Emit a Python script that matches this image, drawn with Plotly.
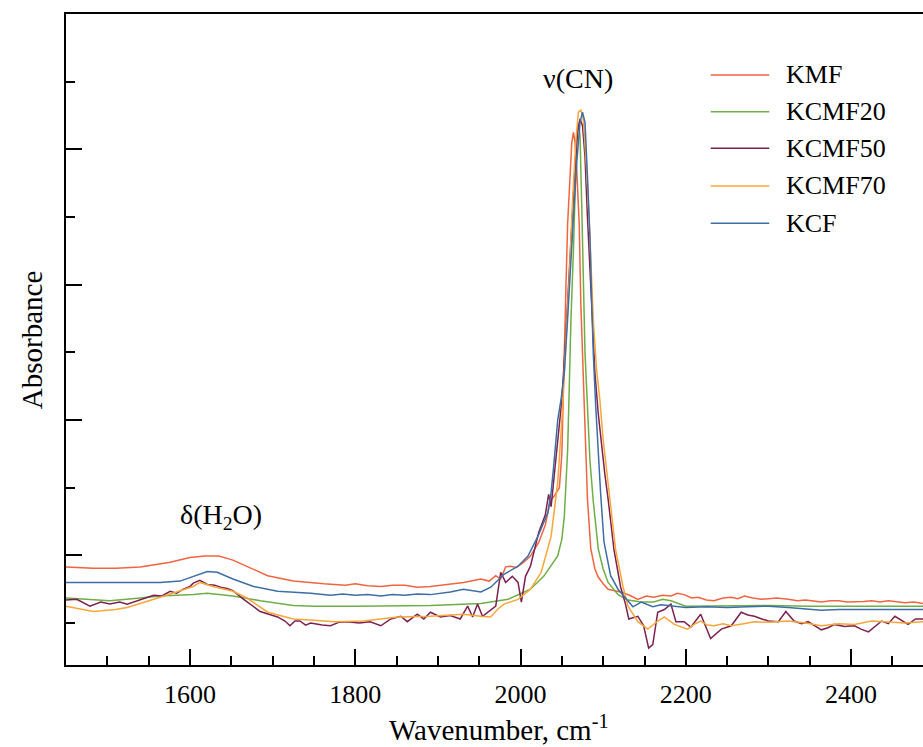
import plotly.graph_objects as go

# ---------------- data ----------------
series_names = ["KMF", "KCMF20", "KCMF50", "KCMF70", "KCF"]
series_colors = ["#F0653F", "#6FAE45", "#7D2150", "#F8A63A", "#3E6EA6"]

KMF_wn = [1450, 1483, 1510, 1540, 1576, 1600, 1618, 1635, 1652, 1677, 1694, 1725, 1740, 1750, 1762, 1775,
          1788, 1800, 1815, 1831, 1845, 1860, 1875, 1891, 1910, 1931, 1952, 1962, 1970, 1976, 1982, 1988,
          1995, 2004, 2012, 2022, 2030, 2036, 2042, 2047, 2050, 2053, 2055, 2057, 2060, 2062, 2064, 2066,
          2068, 2071, 2073, 2075, 2077, 2079, 2081, 2085, 2090, 2094, 2100, 2106, 2121, 2132, 2142, 2152,
          2161, 2172, 2182, 2190, 2198, 2207, 2215, 2225, 2234, 2245, 2255, 2263, 2271, 2281, 2291, 2300,
          2310, 2324, 2335, 2345, 2355, 2364, 2375, 2385, 2395, 2404, 2415, 2425, 2435, 2445, 2455, 2465,
          2476, 2487]
KMF_abs = [0.183, 0.181, 0.181, 0.183, 0.190, 0.197, 0.199, 0.199, 0.193, 0.179, 0.170, 0.162, 0.160, 0.159,
           0.158, 0.157, 0.156, 0.158, 0.155, 0.154, 0.156, 0.156, 0.153, 0.154, 0.157, 0.160, 0.165, 0.162,
           0.170, 0.165, 0.183, 0.184, 0.182, 0.190, 0.199, 0.219, 0.245, 0.280, 0.290, 0.300, 0.350, 0.520,
           0.600, 0.690, 0.770, 0.810, 0.825, 0.810, 0.770, 0.690, 0.570, 0.500, 0.430, 0.350, 0.283, 0.210,
           0.180, 0.168, 0.158, 0.150, 0.146, 0.141, 0.135, 0.140, 0.138, 0.141, 0.140, 0.144, 0.142, 0.137,
           0.138, 0.134, 0.133, 0.137, 0.138, 0.136, 0.140, 0.137, 0.135, 0.136, 0.137, 0.135, 0.133, 0.134,
           0.132, 0.131, 0.133, 0.133, 0.131, 0.131, 0.132, 0.133, 0.131, 0.133, 0.132, 0.130, 0.131, 0.129]

KCMF20_wn = [1450, 1483, 1503, 1540, 1564, 1604, 1621, 1652, 1685, 1725, 1750, 1800, 1850, 1891, 1952, 1985,
             2012, 2028, 2045, 2050, 2053, 2055, 2057, 2059, 2061, 2064, 2066, 2068, 2070, 2072, 2074, 2076,
             2078, 2081, 2084, 2088, 2094, 2100, 2106, 2118, 2130, 2146, 2161, 2172, 2182, 2200, 2250, 2300,
             2350, 2404, 2450, 2487]
KCMF20_abs = [0.137, 0.134, 0.133, 0.137, 0.140, 0.142, 0.144, 0.140, 0.133, 0.126, 0.125, 0.125, 0.125,
              0.126, 0.129, 0.135, 0.150, 0.169, 0.199, 0.224, 0.258, 0.312, 0.356, 0.450, 0.548, 0.650,
              0.750, 0.820, 0.840, 0.820, 0.720, 0.600, 0.500, 0.420, 0.340, 0.280, 0.210, 0.180, 0.160,
              0.142, 0.134, 0.131, 0.131, 0.135, 0.133, 0.125, 0.126, 0.126, 0.125, 0.125, 0.126, 0.125]

KCMF50_wn = [1450, 1463, 1479, 1492, 1503, 1515, 1524, 1540, 1556, 1566, 1576, 1584, 1592, 1600, 1604, 1612,
             1621, 1630, 1637, 1645, 1652, 1665, 1685, 1706, 1715, 1721, 1727, 1733, 1740, 1746, 1760, 1770,
             1780, 1790, 1805, 1818, 1831, 1843, 1855, 1863, 1875, 1883, 1891, 1903, 1915, 1927, 1936, 1942,
             1948, 1954, 1961, 1970, 1976, 1982, 1990, 1997, 2001, 2006, 2012, 2022, 2030, 2034, 2037, 2040,
             2045, 2050, 2055, 2060, 2065, 2069, 2072, 2075, 2078, 2081, 2084, 2087, 2090, 2094, 2098, 2102,
             2106, 2113, 2121, 2127, 2131, 2142, 2149, 2155, 2160, 2166, 2174, 2182, 2188, 2198, 2206, 2218,
             2230, 2243, 2255, 2267, 2275, 2283, 2292, 2300, 2312, 2321, 2331, 2340, 2348, 2356, 2364, 2372,
             2380, 2392, 2404, 2412, 2421, 2437, 2445, 2453, 2461, 2469, 2478, 2487]
KCMF50_abs = [0.134, 0.135, 0.125, 0.131, 0.128, 0.131, 0.128, 0.135, 0.141, 0.140, 0.147, 0.144, 0.150,
              0.154, 0.159, 0.163, 0.157, 0.156, 0.153, 0.151, 0.148, 0.135, 0.117, 0.109, 0.103, 0.096,
              0.103, 0.103, 0.097, 0.100, 0.097, 0.096, 0.101, 0.102, 0.100, 0.102, 0.096, 0.106, 0.110,
              0.102, 0.113, 0.106, 0.116, 0.109, 0.111, 0.106, 0.125, 0.109, 0.128, 0.110, 0.116, 0.125,
              0.175, 0.160, 0.169, 0.160, 0.131, 0.169, 0.184, 0.234, 0.260, 0.290, 0.272, 0.308, 0.371,
              0.430, 0.530, 0.650, 0.755, 0.825, 0.845, 0.835, 0.790, 0.700, 0.620, 0.540, 0.470, 0.410,
              0.360, 0.320, 0.283, 0.209, 0.154, 0.128, 0.106, 0.110, 0.096, 0.063, 0.068, 0.116, 0.120,
              0.128, 0.102, 0.102, 0.094, 0.113, 0.077, 0.091, 0.096, 0.116, 0.112, 0.110, 0.106, 0.103,
              0.102, 0.117, 0.103, 0.099, 0.102, 0.096, 0.090, 0.093, 0.098, 0.095, 0.096, 0.091, 0.087,
              0.103, 0.099, 0.110, 0.104, 0.098, 0.106, 0.106]

KCMF70_wn = [1450, 1483, 1510, 1524, 1564, 1604, 1612, 1628, 1652, 1669, 1694, 1725, 1750, 1775, 1810, 1851,
             1891, 1931, 1952, 1964, 1972, 1980, 1997, 2012, 2025, 2037, 2045, 2050, 2055, 2059, 2063, 2067,
             2070, 2073, 2076, 2080, 2084, 2088, 2092, 2096, 2100, 2108, 2115, 2124, 2130, 2142, 2154, 2166,
             2174, 2186, 2202, 2210, 2218, 2226, 2234, 2245, 2255, 2270, 2283, 2300, 2324, 2345, 2364, 2385,
             2404, 2425, 2445, 2465, 2487]
KCMF70_abs = [0.125, 0.117, 0.120, 0.123, 0.138, 0.154, 0.160, 0.154, 0.147, 0.137, 0.116, 0.106, 0.104,
              0.102, 0.103, 0.109, 0.110, 0.113, 0.110, 0.109, 0.120, 0.128, 0.135, 0.150, 0.175, 0.228,
              0.308, 0.400, 0.520, 0.610, 0.725, 0.814, 0.855, 0.858, 0.844, 0.770, 0.670, 0.548, 0.475,
              0.430, 0.371, 0.283, 0.209, 0.154, 0.125, 0.102, 0.091, 0.103, 0.109, 0.098, 0.091, 0.098,
              0.103, 0.097, 0.096, 0.099, 0.096, 0.099, 0.102, 0.101, 0.103, 0.100, 0.096, 0.099, 0.098,
              0.103, 0.102, 0.100, 0.102]

KCF_wn = [1450, 1480, 1503, 1530, 1564, 1588, 1604, 1621, 1633, 1652, 1677, 1706, 1746, 1770, 1785, 1800,
          1815, 1831, 1845, 1860, 1875, 1891, 1915, 1931, 1952, 1964, 1980, 1997, 2009, 2021, 2033, 2037,
          2040, 2045, 2049, 2053, 2057, 2060, 2064, 2068, 2072, 2075, 2078, 2081, 2084, 2086, 2088, 2091,
          2094, 2097, 2101, 2109, 2118, 2128, 2136, 2146, 2160, 2170, 2180, 2190, 2200, 2225, 2250, 2275,
          2300, 2324, 2345, 2364, 2385, 2404, 2425, 2445, 2465, 2487]
KCF_abs = [0.160, 0.160, 0.159, 0.159, 0.160, 0.162, 0.169, 0.176, 0.175, 0.165, 0.154, 0.147, 0.144, 0.141,
           0.143, 0.141, 0.142, 0.140, 0.142, 0.141, 0.143, 0.142, 0.146, 0.150, 0.146, 0.153, 0.172, 0.184,
           0.199, 0.228, 0.263, 0.293, 0.330, 0.400, 0.430, 0.470, 0.550, 0.620, 0.700, 0.780, 0.840, 0.855,
           0.840, 0.760, 0.670, 0.580, 0.500, 0.420, 0.350, 0.290, 0.220, 0.170, 0.150, 0.136, 0.124, 0.131,
           0.124, 0.127, 0.126, 0.124, 0.123, 0.124, 0.123, 0.124, 0.125, 0.123, 0.121, 0.119, 0.120, 0.120,
           0.119, 0.119, 0.120, 0.120]

x_range = [1450, 2487]
y_range = [0.038, 1.0]

# ---------------- figure ----------------
SERIF = "Liberation Serif"
fig = go.Figure()
all_x = [KMF_wn, KCMF20_wn, KCMF50_wn, KCMF70_wn, KCF_wn]
all_y = [KMF_abs, KCMF20_abs, KCMF50_abs, KCMF70_abs, KCF_abs]
for name, col, xs, ys in zip(series_names, series_colors, all_x, all_y):
    fig.add_trace(go.Scatter(x=xs, y=ys, mode="lines", name=name,
                             line=dict(color=col, width=1.5), showlegend=False))

# manual legend (long line samples like the reference)
leg_y = [0.9063, 0.8499, 0.7937, 0.7358, 0.6785]
for name, col, yy in zip(series_names, series_colors, leg_y):
    fig.add_shape(type="line", xref="paper", yref="paper", x0=0.7523, x1=0.8206, y0=yy, y1=yy,
                  line=dict(color=col, width=1.5))
    fig.add_annotation(xref="paper", yref="paper", x=0.8378, y=yy, text=name, showarrow=False,
                       xanchor="left", yanchor="middle", font=dict(family=SERIF, size=26, color="black"))

fig.add_annotation(x=2069, y=0.905, xref="x", yref="y", text="ν(CN)", showarrow=False,
                   xanchor="center", yanchor="middle", font=dict(family=SERIF, size=28, color="black"))
fig.add_annotation(x=1637, y=0.258, xref="x", yref="y", text="δ(H<sub>2</sub>O)", showarrow=False,
                   xanchor="center", yanchor="middle", font=dict(family=SERIF, size=28, color="black"))

# axis titles
fig.add_annotation(xref="paper", yref="paper", x=0.505, y=-0.097, text="Wavenumber, cm<sup>-1</sup>",
                   showarrow=False, xanchor="center", yanchor="middle",
                   font=dict(family=SERIF, size=29, color="black"))
fig.add_annotation(xref="paper", yref="paper", x=-0.04, y=0.5, text="Absorbance", textangle=-90,
                   showarrow=False, xanchor="center", yanchor="middle",
                   font=dict(family=SERIF, size=29, color="black"))

fig.update_layout(
    width=923, height=747,
    margin=dict(l=66, r=0, t=14, b=82),
    paper_bgcolor="white", plot_bgcolor="white",
    showlegend=False,
    xaxis=dict(range=x_range, tick0=0, dtick=200, ticks="inside", ticklen=16, tickwidth=2,
               tickcolor="black", showline=True, linewidth=2, linecolor="black", mirror=True,
               showgrid=False, zeroline=False, ticklabelstandoff=5,
               tickfont=dict(family=SERIF, size=26, color="black"),
               minor=dict(ticks="inside", ticklen=9, tickwidth=2, tickcolor="black", dtick=50,
                          showgrid=False)),
    yaxis=dict(range=y_range, tick0=0, dtick=0.2, ticks="inside", ticklen=16, tickwidth=2,
               tickcolor="black", showline=True, linewidth=2, linecolor="black",
               showticklabels=False, showgrid=False, zeroline=False,
               minor=dict(ticks="inside", ticklen=9, tickwidth=2, tickcolor="black", dtick=0.1,
                          showgrid=False)),
)

fig.write_html("out.html")
